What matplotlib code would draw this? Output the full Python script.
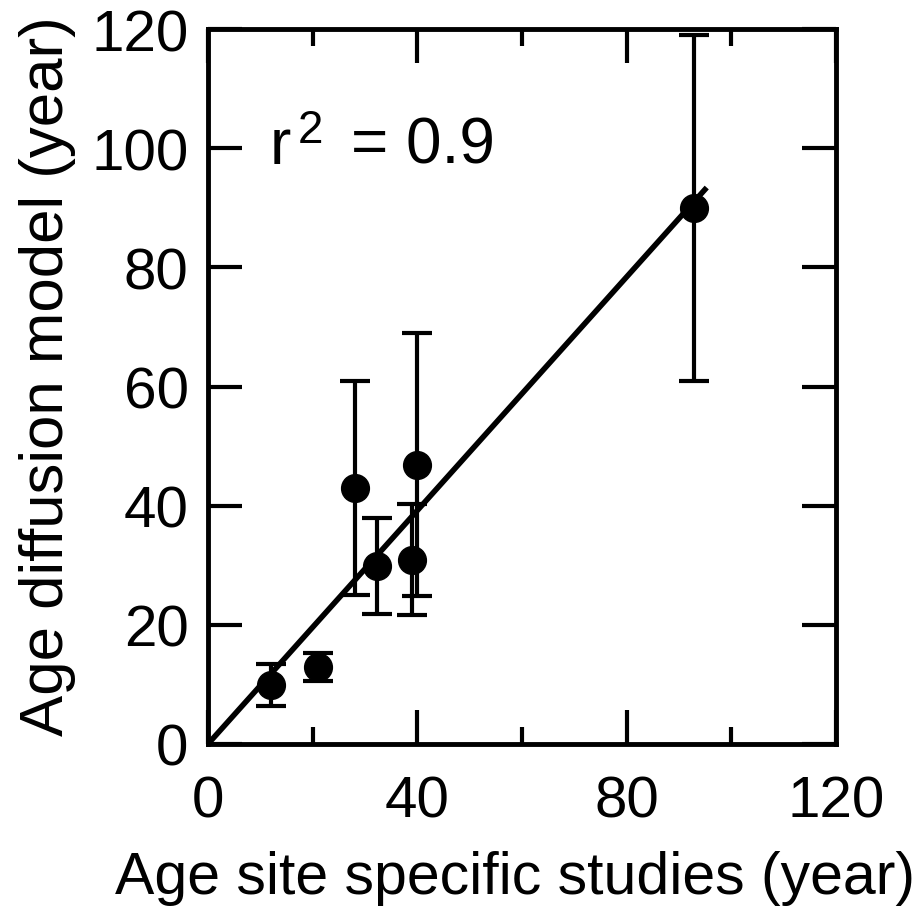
import matplotlib
matplotlib.use("Agg")
import matplotlib.pyplot as plt
import numpy as np
from matplotlib.ticker import MultipleLocator

x_site = [12.1, 21.0, 28.0, 32.2, 39.0, 39.9, 92.9]
y_model = [9.9, 12.9, 43.0, 29.9, 30.9, 46.9, 90.0]
y_err = [3.5, 2.3, 18.0, 8.0, 9.3, 22.0, 29.0]
fit_x = [0.0, 95.3]
fit_slope = 0.98

plt.rcParams['font.family'] = ['Liberation Sans', 'DejaVu Sans']

W, H = 916, 912
fig = plt.figure(figsize=(W/100, H/100), dpi=100)
ax = fig.add_axes([208/W, 1-745/H, (836-208)/W, (745-30)/H])

fx = np.array(fit_x)
ax.plot(fx, fit_slope*fx, color='black', lw=4.0, solid_capstyle='butt', zorder=2)
ax.errorbar(x_site, y_model, yerr=y_err, fmt='o', color='black', ms=20,
            elinewidth=3, capsize=10.5, capthick=3, zorder=3)

ax.set_xlim(0, 120)
ax.set_ylim(0, 120)
ax.xaxis.set_major_locator(MultipleLocator(40))
ax.xaxis.set_minor_locator(MultipleLocator(20))
ax.yaxis.set_major_locator(MultipleLocator(20))
ax.tick_params(which='both', direction='in', top=True, right=True, width=3, labelsize=42)
ax.tick_params(which='major', length=24.5)
ax.tick_params(which='minor', length=12)
ax.tick_params(axis='x', which='major', pad=22)
ax.tick_params(axis='y', which='major', pad=14)
for s in ax.spines.values():
    s.set_linewidth(3.5)

ax.set_xlabel('Age site specific studies (year)', fontsize=42.5)
ax.set_ylabel('Age diffusion model (year)', fontsize=44.5)
ax.xaxis.set_label_coords((515-208)/628, (745-851)/715, transform=ax.transAxes)
ax.yaxis.set_label_coords((76-208)/628, (745-376)/715, transform=ax.transAxes)

# r^2 annotation, drawn as pieces to match the spacing of the original
fig.text(270/W, 1-164/H, 'r', fontsize=46, va='baseline', ha='left')
fig.text(298/W, 1-143/H, '2', fontsize=33, va='baseline', ha='left')
fig.text(351/W, 1-164/H, '= 0.9', fontsize=46, va='baseline', ha='left')

fig.savefig('out.png', dpi=100)
